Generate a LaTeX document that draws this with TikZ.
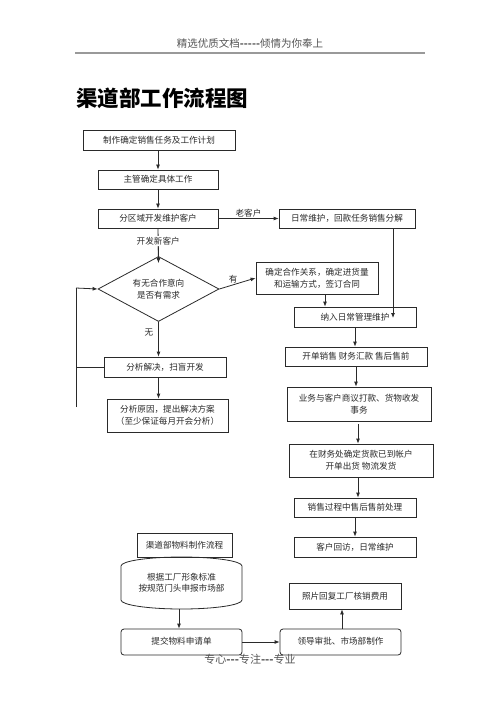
\documentclass[tikz,border=0pt]{standalone}
\usepackage{fontspec}
\setmainfont{Noto Sans CJK SC}
\usetikzlibrary{arrows.meta,shapes.geometric}
\definecolor{ink}{HTML}{2A2A2A}
\definecolor{hdr}{HTML}{555555}
\tikzset{
  box/.style={draw=ink,line width=0.8pt,inner sep=1pt,align=center,text=ink,
    font=\fontsize{8.6}{12}\selectfont},
  rbox/.style={box,rounded corners=3pt},
  dia/.style={box,diamond,shape aspect=2,inner sep=0pt},
  arr/.style={draw=ink,line width=0.8pt,-{Latex[length=5pt,width=4pt]}},
  ln/.style={draw=ink,line width=0.8pt},
  lbl/.style={text=ink,font=\fontsize{8.6}{11}\selectfont,inner sep=1pt}
}
\begin{document}
\begin{tikzpicture}[x=1pt,y=-1pt]
\useasboundingbox (0,0) rectangle (500,708);
\fill[white] (0,0) rectangle (500,708);
% header
\node[text=hdr,font=\fontsize{10.5}{12}\selectfont] (hd) at (250,43) {精选优质文档{\bfseries{-}{-}{-}{-}{-}}倾情为你奉上};
\draw[hdr!60,line width=1.2pt] (75,53) -- (425,53);
\node[anchor=west,text=black,font=\fontsize{21.5}{24}\selectfont\bfseries,inner sep=0pt] (title) at (76,98) {渠道部工作流程图};
% main flow
\node[box,minimum width=152,minimum height=20] (b1) at (159,140) {制作确定销售任务及工作计划};
\node[box,minimum width=120,minimum height=19] (b2) at (158,179.5) {主管确定具体工作};
\node[box,minimum width=120,minimum height=19] (b3) at (158,218.5) {分区域开发维护客户};
\node[box,minimum width=136,minimum height=19] (b4) at (347,218.5) {日常维护，回款任务销售分解};
\node[dia,minimum width=121,minimum height=65] (d) at (158.5,289) {有无合作意向\\是否有需求};
\node[box,minimum width=122,minimum height=32] (b5) at (317,278) {确定合作关系，确定进货量\\和运输方式，签订合同};
\node[box,minimum width=122,minimum height=20] (b6) at (355,317) {纳入日常管理维护};
\node[box,minimum width=142,minimum height=19] (b7) at (356,356.5) {开单销售 财务汇款 售后售前};
\node[box,minimum width=144,minimum height=34] (b8) at (359,404) {业务与客户商议打款、货物收发\\事务};
\node[box,minimum width=144,minimum height=33] (b9) at (361,460.5) {在财务处确定货款已到帐户\\开单出货 物流发货};
\node[box,minimum width=122,minimum height=19] (b10) at (355,507.5) {销售过程中售后售前处理};
\node[box,minimum width=122,minimum height=20] (b11) at (355,547) {客户回访，日常维护};
\node[box,minimum width=122,minimum height=20] (b12) at (165,367) {分析解决，扫盲开发};
\node[box,minimum width=121,minimum height=33] (b13) at (167.5,415.5) {分析原因，提出解决方案\\（至少保证每月开会分析）};
% connectors main
\draw[arr] (b2.north |- b1.south) -- (b2.north);
\draw[arr] (b2.south) -- (b3.north);
\draw[arr] (b3.east) -- node[lbl,above] (l1) {老客户} (b4.west);
\draw[ln] (b3.south) -- node[lbl,fill=white,pos=0.45] (l2) {开发新客户} (d.north);
\draw[arr] (l2.south) -- ([yshift=-7pt]d.north);
\draw[arr] (d.east) -- node[lbl,above,pos=0.38] (l3) {有} (b5.west);
\draw[arr] ([xshift=8pt]b5.south) -- ([xshift=8pt]b5.south |- b6.north);
\coordinate (b6in) at (393,318);
\draw[arr] (b4.south -| b6in) -- (b6in);
\draw[arr] (b6.south) -- (b6.south |- b7.north);
\draw[arr] (b7.south) -- (b7.south |- b8.north);
\draw[arr] ([xshift=-1pt,yshift=-3pt]b8.south) -- ([xshift=-1pt]b8.south |- b9.north);
\draw[arr] ([xshift=-3pt]b9.south) -- ([xshift=-3pt]b9.south |- b10.north);
\draw[arr] (b10.south) -- (b10.south |- b11.north);
\draw[arr] (d.south) -- node[lbl,left,pos=0.3,xshift=-4pt] (l4) {无} (d.south |- b12.north);
\draw[arr] (b12.south -| d.south) -- (d.south |- b13.north);
\coordinate (lt) at (76,288);
\coordinate (lb) at (76,407);
\draw[ln] (lb) -- (lt);
\draw[arr] (lt) -- (d.west);
\draw[ln] (b12.west) -- (b12.west -| lt);
% materials flow
\node[box,minimum width=95,minimum height=24] (b14) at (184.5,545) {渠道部物料制作流程};
\node[lbl,minimum width=121,minimum height=52,align=center,inner sep=0pt] (cyl) at (181.5,583) {根据工厂形象标准\\按规范门头申报市场部};
\draw[ln] (121,600) -- (121,566) arc[start angle=180,end angle=0,x radius=60.5pt,y radius=9pt]
  -- (242,600) arc[start angle=0,end angle=-180,x radius=60.5pt,y radius=9pt];
\node[rbox,minimum width=121,minimum height=26] (b15) at (181.5,642) {\raisebox{3pt}{提交物料申请单}};
\node[rbox,minimum width=121,minimum height=26] (b16) at (340.5,642) {\raisebox{2pt}{领导审批、市场部制作}};
\node[box,minimum width=112,minimum height=26] (b17) at (345,596) {照片回复工厂核销费用};
\draw[arr] ([xshift=-2.5pt]cyl.south) -- ([xshift=-2.5pt]cyl.south |- b15.north);
\draw[arr] (b15.east) -- (b16.west);
\draw[arr] ([xshift=1.5pt]b16.north) -- ([xshift=1.5pt]b16.north |- b17.south);
% footer
\node[text=hdr,font=\fontsize{11}{12}\selectfont] (ft) at (250,659) {专心{\bfseries{-}{-}{-}}专注{\bfseries{-}{-}{-}}专业};
\end{tikzpicture}
\end{document}
